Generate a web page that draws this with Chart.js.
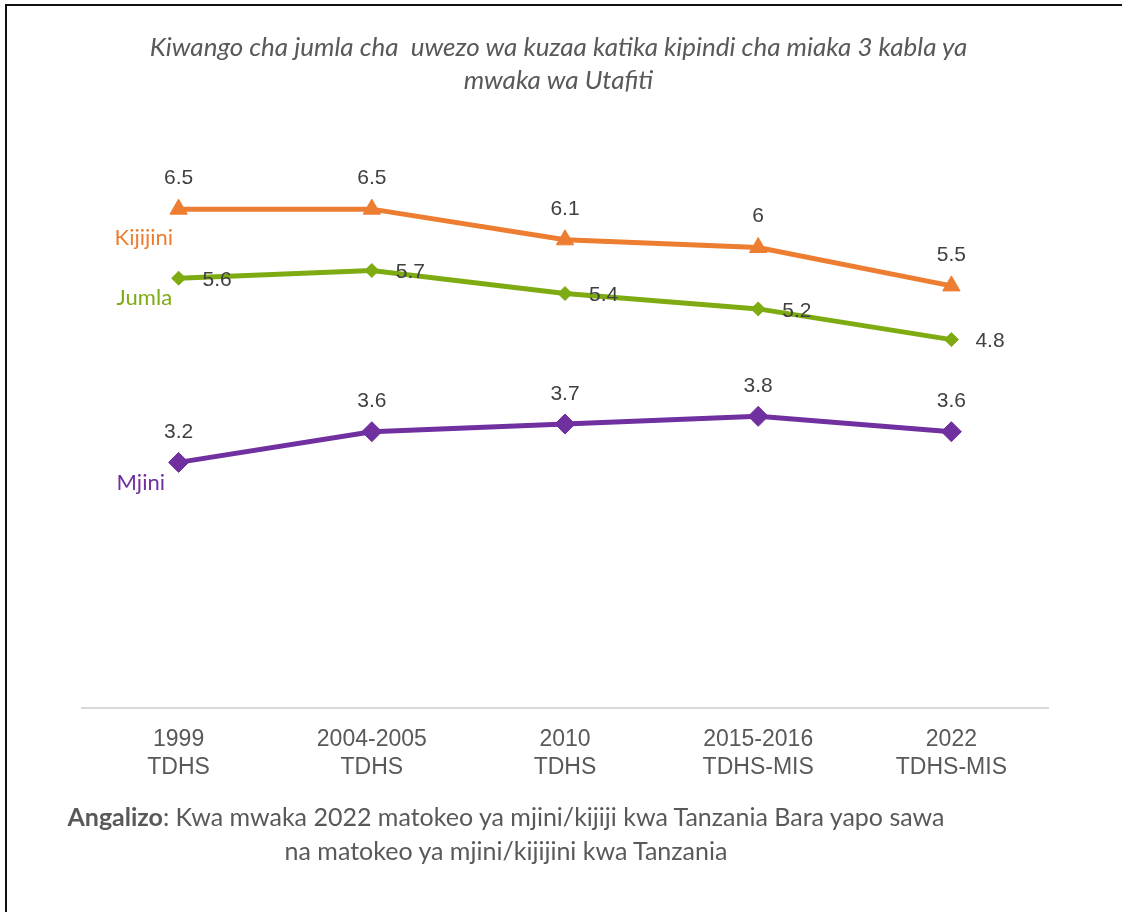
<!DOCTYPE html>
<html>
<head>
<meta charset="utf-8">
<script src="https://cdn.jsdelivr.net/npm/chart.js@4/dist/chart.umd.min.js"></script>
<style>
  html, body { margin: 0; padding: 0; background: #fff; }
  #wrap { position: relative; width: 1122px; height: 912px; overflow: hidden; }
  #frame {
    position: absolute; left: 5px; top: 4px; width: 1130px; height: 920px;
    border-left: 2px solid #111; border-top: 2px solid #111; box-sizing: border-box;
  }
  canvas { position: absolute; left: 0; top: 0; }
  .title {
    position: absolute; left: 0; width: 1117px; top: 30px; text-align: center;
    font: italic 26px Lato, "Open Sans", sans-serif; line-height: 33px; color: #595959;
  }
  .note {
    position: absolute; left: 0; width: 1012px; top: 799px; text-align: center;
    font: 25px Lato, "Open Sans", sans-serif; line-height: 34px; color: #595959;
  }
</style>
</head>
<body>
<div id="wrap">
  <canvas id="chart" width="1122" height="912"></canvas>
  <div id="frame"></div>
  <div class="title">Kiwango cha jumla cha&nbsp; uwezo wa kuzaa katika kipindi cha miaka 3 kabla ya<br>mwaka wa Utafiti</div>
  <div class="note"><b>Angalizo</b>: Kwa mwaka 2022 matokeo ya mjini/kijiji kwa Tanzania Bara yapo sawa<br>na matokeo ya mjini/kijijini kwa Tanzania</div>
</div>
<script>
/* Survey rounds on the x axis (two-line labels) */
var surveys = [
  ['1999', 'TDHS'],
  ['2004-2005', 'TDHS'],
  ['2010', 'TDHS'],
  ['2015-2016', 'TDHS-MIS'],
  ['2022', 'TDHS-MIS']
];

/* Total fertility rate by residence */
var kijijini = [6.5, 6.5, 6.1, 6, 5.5];
var jumla = [5.6, 5.7, 5.4, 5.2, 4.8];
var mjini = [3.2, 3.6, 3.7, 3.8, 3.6];

var seriesNames = ['Kijijini', 'Jumla', 'Mjini'];

var ORANGE = '#ED7D31';
var GREEN = '#7FAB12';
var PURPLE = '#7030A0';
var LABEL_GREY = '#404040';

/* where each series puts its value labels and its name, relative to the point */
var labelStyle = [
  { dx: 0, dy: -31, align: 'center' },
  { dx: 24, dy: 2, align: 'left' },
  { dx: 0, dy: -30, align: 'center' }
];
var nameStyle = [
  { dx: -64, dy: 29 },
  { dx: -62, dy: 20 },
  { dx: -62, dy: 21 }
];

/* Plugin: value labels next to every point + series name at the first point */
var lineLabelsPlugin = {
  id: 'lineLabels',
  afterDatasetsDraw: function(chart) {
    var ctx = chart.ctx;
    ctx.save();
    chart.data.datasets.forEach(function(ds, i) {
      var meta = chart.getDatasetMeta(i);
      var ls = labelStyle[i];
      ctx.font = '21px "Liberation Sans", Arial, sans-serif';
      ctx.fillStyle = LABEL_GREY;
      ctx.textAlign = ls.align;
      ctx.textBaseline = 'middle';
      meta.data.forEach(function(pt, j) {
        ctx.fillText(String(ds.data[j]), pt.x + ls.dx, pt.y + ls.dy);
      });

      var first = meta.data[0];
      var ns = nameStyle[i];
      ctx.font = '22px Lato, "Noto Sans", sans-serif';
      ctx.fillStyle = ds.borderColor;
      ctx.textAlign = 'left';
      ctx.fillText(seriesNames[i], first.x + ns.dx, first.y + ns.dy);
    });
    ctx.restore();
  }
};

new Chart(document.getElementById('chart').getContext('2d'), {
  type: 'line',
  data: {
    labels: surveys,
    datasets: [
      {
        label: seriesNames[0],
        data: kijijini,
        borderColor: ORANGE,
        backgroundColor: ORANGE,
        borderWidth: 5,
        pointStyle: 'triangle',
        pointRadius: 10,
        pointBorderWidth: 1,
        tension: 0,
        clip: false
      },
      {
        label: seriesNames[1],
        data: jumla,
        borderColor: GREEN,
        backgroundColor: GREEN,
        borderWidth: 5,
        pointStyle: 'rectRot',
        pointRadius: 7,
        pointBorderWidth: 1,
        tension: 0,
        clip: false
      },
      {
        label: seriesNames[2],
        data: mjini,
        borderColor: PURPLE,
        backgroundColor: PURPLE,
        borderWidth: 5,
        pointStyle: 'rectRot',
        pointRadius: 10,
        pointBorderWidth: 1,
        tension: 0,
        clip: false
      }
    ]
  },
  options: {
    responsive: false,
    animation: false,
    layout: {
      padding: { left: 82, right: 74, top: 94, bottom: 114 }
    },
    scales: {
      x: {
        offset: true,
        grid: { display: false, drawTicks: false },
        border: { display: true, color: '#D9D9D9', width: 2 },
        ticks: {
          color: '#595959',
          padding: 18,
          maxRotation: 0,
          autoSkip: false,
          font: { family: "'Liberation Sans', Arial, sans-serif", size: 23, lineHeight: 1.2 }
        },
        afterFit: function(scale) { scale.height = 90; }
      },
      y: {
        display: false,
        min: 0,
        max: 8
      }
    },
    plugins: {
      legend: { display: false },
      tooltip: { enabled: false }
    }
  },
  plugins: [lineLabelsPlugin]
});
</script>
</body>
</html>
